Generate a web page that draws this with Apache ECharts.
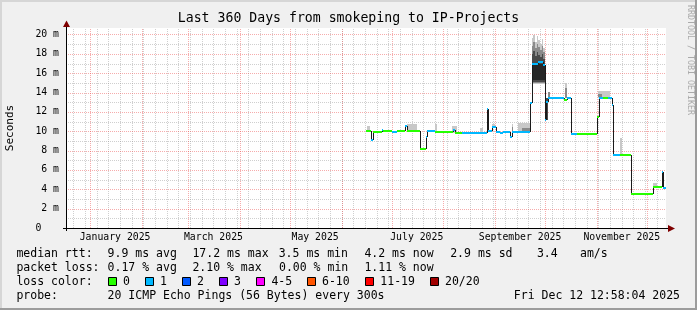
<!DOCTYPE html>
<html><head><meta charset="utf-8">
<script src="https://cdn.jsdelivr.net/npm/echarts@6/dist/echarts.min.js"></script>
<style>html,body{margin:0;padding:0;background:#f0f0f0}#c{width:697px;height:310px}</style>
</head><body><div id="c"></div>
<script>
// ---------------- data ----------------
const END_TIME = '2025-12-12 12:58:04';
const SPAN_DAYS = 360;
const TITLE = 'Last 360 Days from smokeping to IP-Projects';
const Y_MAX = 20.67;
const yTickValues = [0, 2, 4, 6, 8, 10, 12, 14, 16, 18, 20];
const monthLabelStarts = ['2025-01-01', '2025-03-01', '2025-05-01', '2025-07-01', '2025-09-01', '2025-11-01'];
const monthLabels = ['January 2025', 'March 2025', 'May 2025', 'July 2025', 'September 2025', 'November 2025'];

// median rtt (ms), step values holding until the next time; loss index per step
const medTimes = ['2025-06-15 12:00','2025-06-18 12:00','2025-06-20','2025-06-25','2025-06-26','2025-07-01','2025-07-04','2025-07-09','2025-07-10','2025-07-18','2025-07-21 08:00','2025-07-22','2025-07-27','2025-08-07','2025-08-08','2025-08-12','2025-08-27','2025-08-28','2025-08-30','2025-09-01 08:00','2025-09-04','2025-09-06','2025-09-10','2025-09-11','2025-09-22','2025-09-23','2025-09-27','2025-09-30','2025-10-01','2025-10-01 12:00','2025-10-03','2025-10-12 12:00','2025-10-14','2025-10-16 12:00','2025-10-20','2025-11-01','2025-11-02 08:00','2025-11-05','2025-11-08','2025-11-10','2025-11-11','2025-11-15','2025-11-21 12:00','2025-12-05','2025-12-10','2025-12-11','2025-12-12 12:00'];
const medValues = [10.06, 9.1, 9.95, 10.12, 10.03, 9.95, 10.03, 10.5, 10.06, 8.13, 9.4, 10.06, 9.95, 10.15, 9.79, 9.79, 12.3, 10.06, 10.4, 9.9, 9.79, 9.9, 9.4, 9.9, 12.9, 17.0, 17.12, 16.85, 11.16, 13.05, 13.4, 13.23, 13.4, 9.68, 9.68, 11.44, 13.47, 13.47, 13.4, 12.71, 7.55, 7.55, 3.51, 4.27, 5.82, 4.1, 4.1];
const medLoss = [0, 1, 0, 1, 0, 1, 0, 1, 0, 0, 1, 1, 0, 1, 0, 1, 1, 1, 1, 1, 1, 1, 1, 1, 1, 1, 1, 1, 1, 1, 1, 0, 1, 1, 0, 0, 1, 0, 1, 1, 1, 0, 0, 0, 1, 1, 1];

// smoke bands [start, end, low, high] (ms)
const smokeLight = [
  ['2025-06-16','2025-06-18',10.06,10.5], ['2025-07-10','2025-07-16',10.06,10.8],
  ['2025-07-27','2025-07-28',9.95,10.8], ['2025-08-06','2025-08-09',9.8,10.5],
  ['2025-08-23','2025-08-25',9.8,10.3], ['2025-08-30','2025-09-01',10.4,10.7],
  ['2025-09-11','2025-09-12',9.9,10.8], ['2025-09-15','2025-09-22',9.9,10.9],
  ['2025-09-23','2025-09-24',14.9,19.6], ['2025-09-24','2025-09-25',14.9,19.9],
  ['2025-09-25','2025-09-26',14.9,19.2], ['2025-09-26','2025-09-27',14.9,19.8],
  ['2025-09-27','2025-09-28',14.9,19.4], ['2025-09-28','2025-09-29',14.9,19.0],
  ['2025-09-29','2025-09-30',14.9,19.5], ['2025-09-30','2025-10-01',14.9,18.6],
  ['2025-10-13','2025-10-14',13.4,14.96],
  ['2025-11-02','2025-11-09',13.4,14.2], ['2025-11-15','2025-11-16',7.55,9.3],
  ['2025-12-05','2025-12-07',4.3,4.7]
];
const smokeMid = [
  ['2025-09-11','2025-09-12',9.9,10.4], ['2025-09-17','2025-09-22',9.9,10.3],
  ['2025-09-23','2025-09-24',15.0,18.8], ['2025-09-24','2025-09-25',15.0,19.2],
  ['2025-09-25','2025-09-26',15.0,18.6], ['2025-09-26','2025-09-27',15.0,19.0],
  ['2025-09-27','2025-09-28',15.0,18.7], ['2025-09-28','2025-09-29',15.0,18.4],
  ['2025-09-29','2025-09-30',15.0,18.8], ['2025-09-30','2025-10-01',15.0,18.2],
  ['2025-10-03','2025-10-04',13.4,14.1],
  ['2025-10-13','2025-10-14',13.4,14.5], ['2025-11-02','2025-11-04',13.5,13.9]
];
const smokeDark = [
  ['2025-09-23','2025-09-24',15.1,18.0], ['2025-09-24','2025-09-25',15.1,18.3],
  ['2025-09-25','2025-09-26',15.1,17.8], ['2025-09-26','2025-09-27',15.1,18.2],
  ['2025-09-27','2025-09-28',15.1,17.9], ['2025-09-28','2025-09-29',15.1,17.7],
  ['2025-09-29','2025-09-30',15.1,18.0], ['2025-09-30','2025-10-01',15.1,17.5],
  ['2025-10-01','2025-10-03',11.2,13.4]
];
const smokeDarkest = [
  ['2025-09-23','2025-10-01',15.3,16.9]
];

const lossLabels = ['0', '1', '2', '3', '4-5', '6-10', '11-19', '20/20'];
const lossColors = ['#26ff00', '#00b8ff', '#0059ff', '#7e00ff', '#ff00ff', '#ff5500', '#ff0000', '#a10000'];

const rttStats = ['9.9 ms avg', '17.2 ms max', '3.5 ms min', '4.2 ms now', '2.9 ms sd', '3.4', 'am/s'];
const lossStats = ['0.17 % avg', '2.10 % max', '0.00 % min', '1.11 % now'];
const probeText = '20 ICMP Echo Pings (56 Bytes) every 300s';
const dateText = 'Fri Dec 12 12:58:04 2025';

// ---------------- helpers ----------------
function parseT(s) {
  const parts = s.split(' ');
  const d = parts[0].split('-').map(Number);
  let h = 0, mi = 0, se = 0;
  if (parts[1]) { const t = parts[1].split(':').map(Number); h = t[0] || 0; mi = t[1] || 0; se = t[2] || 0; }
  return new Date(d[0], d[1] - 1, d[2], h, mi, se).getTime();
}
const DAY = 86400000;
const endMs = parseT(END_TIME);
const startMs = endMs - SPAN_DAYS * DAY;

// grid positions (calendar rules)
const monthLines = [];
for (let y = 2024; y <= 2025; y++) for (let m = 0; m < 12; m++) {
  const t = new Date(y, m, 1).getTime();
  if (t > startMs && t < endMs) monthLines.push(t);
}
const weekLines = [];
{
  const s = new Date(startMs); let d = new Date(s.getFullYear(), s.getMonth(), s.getDate() + 1);
  while (d.getDay() !== 0) d = new Date(d.getFullYear(), d.getMonth(), d.getDate() + 1);
  while (d.getTime() < endMs) { weekLines.push(d.getTime()); d = new Date(d.getFullYear(), d.getMonth(), d.getDate() + 7); }
}
const labelTimes = monthLabelStarts.map(s => parseT(s) + 15 * DAY);

const vGrid = weekLines.map(t => [t, 0]).concat(monthLines.map(t => [t, 1]));
const hGrid = [];
for (let v = 1; v <= 20; v++) hGrid.push([startMs, v, v % 2 === 0 ? 1 : 0]);

const medT = medTimes.map(parseT);
const segData = [];
for (let i = 0; i < medT.length - 1; i++) {
  const nextV = i + 1 < medT.length - 1 ? medValues[i + 1] : medValues[i];
  segData.push([medT[i], medT[i + 1], medValues[i], medLoss[i], nextV]);
}

const toSmoke = arr => arr.map(r => [parseT(r[0]), parseT(r[1]), r[2], r[3]]);

const MINOR = 'rgba(140,140,140,0.42)';
const MAJOR = 'rgba(235,70,70,0.45)';
const MONO = '"DejaVu Sans Mono", monospace';

function smokeSeries(arr, color, z) {
  return {
    type: 'custom', coordinateSystem: 'cartesian2d', silent: true, z: z, animation: false,
    data: toSmoke(arr),
    renderItem: function (params, api) {
      const p0 = api.coord([api.value(0), api.value(3)]);
      const p1 = api.coord([api.value(1), api.value(2)]);
      const x0 = Math.round(p0[0]), x1 = Math.round(p1[0]);
      const y0 = Math.round(p0[1]), y1 = Math.round(p1[1]);
      return { type: 'rect', shape: { x: x0, y: y0, width: Math.max(1, x1 - x0), height: Math.max(1, y1 - y0) }, style: { fill: color } };
    }
  };
}

// ---------------- chart ----------------
const chart = echarts.init(document.getElementById('c'), null, { renderer: 'canvas', width: 697, height: 310 });

const graphics = [];
function txt(text, x, y, size, opt) {
  opt = opt || {};
  graphics.push({
    type: 'text', x: x, y: y, rotation: opt.rot || 0, z: 100,
    style: { text: text, font: size + 'px ' + MONO, fill: opt.color || '#000', align: opt.align || 'left', textAlign: opt.align || 'left', verticalAlign: 'middle', textVerticalAlign: 'middle' }
  });
}
// frame
graphics.push({ type: 'rect', z: 99, shape: { x: 0, y: 0, width: 697, height: 2 }, style: { fill: '#d6d6d6' } });
graphics.push({ type: 'rect', z: 99, shape: { x: 0, y: 0, width: 2, height: 310 }, style: { fill: '#d6d6d6' } });
graphics.push({ type: 'rect', z: 99, shape: { x: 0, y: 308, width: 697, height: 2 }, style: { fill: '#9c9c9c' } });
graphics.push({ type: 'rect', z: 99, shape: { x: 695, y: 0, width: 2, height: 310 }, style: { fill: '#9c9c9c' } });
// axes
graphics.push({ type: 'line', z: 100, shape: { x1: 63, y1: 228.5, x2: 670, y2: 228.5 }, style: { stroke: '#000', lineWidth: 1 } });
graphics.push({ type: 'polygon', z: 100, shape: { points: [[668, 225], [675, 228.5], [668, 232]] }, style: { fill: '#7f0000' } });
graphics.push({ type: 'line', z: 100, shape: { x1: 66.5, y1: 231, x2: 66.5, y2: 26 }, style: { stroke: '#000', lineWidth: 1 } });
graphics.push({ type: 'polygon', z: 100, shape: { points: [[63, 27], [66.5, 20.5], [70, 27]] }, style: { fill: '#7f0000' } });
// titles
txt(TITLE, 348.5, 19, 13.2, { align: 'center' });
txt('Seconds', 10.5, 128, 11, { align: 'center', rot: Math.PI / 2 });
txt('RRDTOOL / TOBI OETIKER', 690.5, 60, 8.3, { align: 'center', rot: -Math.PI / 2, color: '#aaaaaa' });
// legend
const LF = 11.5;
const rowY = [254, 268, 282, 296];
txt('median rtt:', 16.4, rowY[0], LF);
const rttX = [107.6, 192.4, 278.7, 364.4, 450.2, 536.9, 580];
rttStats.forEach((s, i) => txt(s, rttX[i], rowY[0], LF));
txt('packet loss:', 16.4, rowY[1], LF);
const lossX = [107.6, 192.4, 279, 364.4];
lossStats.forEach((s, i) => txt(s, lossX[i], rowY[1], LF));
txt('loss color:', 16.4, rowY[2], LF);
const boxX = [108, 145, 182, 219, 256.4, 307, 365.3, 430];
lossLabels.forEach((s, i) => {
  graphics.push({ type: 'rect', z: 100, shape: { x: Math.round(boxX[i]) + 0.5, y: 277.5, width: 8, height: 8 }, style: { fill: lossColors[i], stroke: '#000', lineWidth: 1 } });
  txt(s, boxX[i] + 15, rowY[2], LF);
});
txt('probe:', 16.4, rowY[3], LF);
txt(probeText, 107.6, rowY[3], LF);
txt(dateText, 680, rowY[3], LF, { align: 'right' });

chart.setOption({
  backgroundColor: '#f0f0f0',
  animation: false,
  grid: { left: 66, top: 28, width: 600, height: 200, show: true, backgroundColor: '#ffffff', borderWidth: 0 },
  xAxis: {
    type: 'value', min: startMs, max: endMs, scale: true,
    axisLine: { show: false }, axisTick: { show: false }, splitLine: { show: false },
    axisLabel: {
      customValues: labelTimes, margin: 4, fontFamily: MONO, fontSize: 9.8, color: '#000', hideOverlap: false,
      formatter: function (v) {
        let best = 0, bd = Infinity;
        labelTimes.forEach((t, i) => { const d = Math.abs(t - v); if (d < bd) { bd = d; best = i; } });
        return monthLabels[best];
      }
    }
  },
  yAxis: {
    type: 'value', min: 0, max: Y_MAX,
    axisLine: { show: false }, axisTick: { show: false }, splitLine: { show: false },
    axisLabel: {
      customValues: yTickValues, margin: 7, fontFamily: MONO, fontSize: 9.8, color: '#000',
      formatter: function (v) { return v === 0 ? '0   ' : v + ' m'; }
    }
  },
  series: [
    {
      type: 'custom', coordinateSystem: 'cartesian2d', silent: true, z: 1, data: vGrid,
      renderItem: function (params, api) {
        const t = api.value(0), k = api.value(1);
        const p0 = api.coord([t, 0]), p1 = api.coord([t, Y_MAX]);
        const x = Math.round(p0[0]) + 0.5;
        return { type: 'line', z2: k ? 2 : 1, shape: { x1: x, y1: p0[1], x2: x, y2: p1[1] }, style: { stroke: k ? MAJOR : MINOR, lineWidth: 1, lineDash: [1, 1] } };
      }
    },
    {
      type: 'custom', coordinateSystem: 'cartesian2d', silent: true, z: 1, data: hGrid,
      renderItem: function (params, api) {
        const v = api.value(1), k = api.value(2);
        const p0 = api.coord([startMs, v]), p1 = api.coord([endMs, v]);
        const y = Math.round(p0[1]) + 0.5;
        return { type: 'line', z2: k ? 2 : 1, shape: { x1: p0[0], y1: y, x2: p1[0], y2: y }, style: { stroke: k ? MAJOR : MINOR, lineWidth: 1, lineDash: [1, 1] } };
      }
    },
    smokeSeries(smokeLight, '#c8c8c8', 2),
    smokeSeries(smokeMid, '#8a8a8a', 3),
    smokeSeries(smokeDark, '#4a4a4a', 4),
    smokeSeries(smokeDarkest, '#262626', 5),
    {
      type: 'custom', coordinateSystem: 'cartesian2d', silent: true, z: 7, data: segData,
      renderItem: function (params, api) {
        const p0 = api.coord([api.value(0), api.value(2)]);
        const p1 = api.coord([api.value(1), api.value(2)]);
        const pn = api.coord([api.value(1), api.value(4)]);
        const x0 = Math.round(p0[0]), x1 = Math.round(p1[0]);
        const y = Math.round(p0[1]), yn = Math.round(pn[1]);
        return {
          type: 'group', children: [
            { type: 'line', z2: 1, shape: { x1: x1 + 0.5, y1: y, x2: x1 + 0.5, y2: yn }, style: { stroke: '#1a1a1a', lineWidth: 1 } },
            { type: 'rect', z2: 2, shape: { x: x0, y: y - 1, width: Math.max(1, x1 - x0), height: 2 }, style: { fill: lossColors[api.value(3)] } }
          ]
        };
      }
    }
  ],
  graphic: { elements: graphics }
});
</script>
</body></html>
